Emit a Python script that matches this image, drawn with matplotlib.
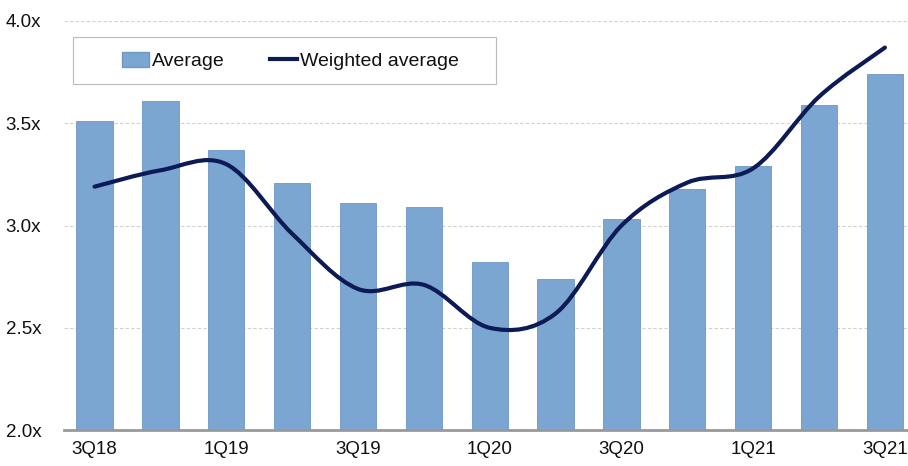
import matplotlib
matplotlib.use('Agg')
import matplotlib.pyplot as plt
from matplotlib.path import Path
from matplotlib.patches import PathPatch, Rectangle
from matplotlib.lines import Line2D
import numpy as np

quarters = ['3Q18', '4Q18', '1Q19', '2Q19', '3Q19', '4Q19', '1Q20',
            '2Q20', '3Q20', '4Q20', '1Q21', '2Q21', '3Q21']
average = [3.51, 3.61, 3.37, 3.21, 3.11, 3.09, 2.82, 2.74, 3.03, 3.18, 3.29, 3.59, 3.74]
weighted_average = [3.19, 3.27, 3.30, 2.96, 2.69, 2.71, 2.50, 2.57, 3.00, 3.21, 3.28, 3.63, 3.87]
tick_labels = ['3Q18', '1Q19', '3Q19', '1Q20', '3Q20', '1Q21', '3Q21']
y_ticks = [2.0, 2.5, 3.0, 3.5, 4.0]

plt.rcParams['font.family'] = ['Liberation Sans', 'DejaVu Sans']

fig = plt.figure(figsize=(9.08, 4.66), dpi=100)
ax = fig.add_axes([0.07, 0.077, 0.93, 0.878])

x = np.arange(len(quarters))
ax.bar(x, average, width=0.55, color='#7ba6d2', edgecolor='#6b97c4',
       linewidth=0.6, zorder=2)


# smoothed line like excel: cubic bezier through the points
def smooth_path(xs, ys, t=1/6):
    pts = np.column_stack([xs, ys])
    verts = [pts[0]]
    codes = [Path.MOVETO]
    n = len(pts)
    for i in range(n - 1):
        p0 = pts[i - 1] if i > 0 else pts[i]
        p1 = pts[i]
        p2 = pts[i + 1]
        p3 = pts[i + 2] if i + 2 < n else pts[i + 1]
        c1 = p1 + (p2 - p0) * t
        c2 = p2 - (p3 - p1) * t
        verts += [c1, c2, p2]
        codes += [Path.CURVE4] * 3
    return Path(verts, codes)


line = PathPatch(smooth_path(x, weighted_average), facecolor='none',
                 edgecolor='#0c1a55', linewidth=3, capstyle='round', zorder=3)
ax.add_patch(line)

ax.set_ylim(2.0, 4.0)
ax.set_xlim(-0.47, 12.35)
ax.set_yticks(y_ticks)
ax.set_yticklabels(['%.1fx' % v for v in y_ticks])
ax.set_xticks(x[::2])
ax.set_xticklabels(tick_labels)
ax.tick_params(length=0, labelsize=13.5, colors='#111111')
ax.tick_params(axis='x', pad=8)
ax.tick_params(axis='y', pad=16)

ax.grid(axis='y', color='#d0d0d0', linestyle=(0, (3, 2)), linewidth=0.8, zorder=0)
ax.set_axisbelow(True)
for s in ['top', 'right', 'left']:
    ax.spines[s].set_visible(False)
ax.spines['bottom'].set_color('#999999')
ax.spines['bottom'].set_linewidth(2)
ax.spines['bottom'].set_zorder(4)

# legend frame drawn separately, it is much wider than the entries
frame = Rectangle((73 / 908, 1 - 84 / 466), (496 - 73) / 908, 47 / 466,
                  transform=fig.transFigure, facecolor='white', edgecolor='#bbbbbb',
                  linewidth=0.8, zorder=5)
fig.patches.append(frame)

handles = [Rectangle((0, 0), 1, 1, facecolor='#7ba6d2', edgecolor='#6b97c4'),
           Line2D([0], [0], color='#0c1a55', linewidth=3)]
leg = fig.legend(handles, ['Average', 'Weighted average'], ncol=2, loc='center left',
                 bbox_to_anchor=(122 / 908, 1 - 61 / 466), frameon=False,
                 fontsize=14, handlelength=1.4, handleheight=0.8, handletextpad=0.15,
                 columnspacing=2.3, borderpad=0, borderaxespad=0)
leg.set_zorder(6)
for t in leg.get_texts():
    t.set_color('#111111')

fig.savefig('out.png', dpi=100)
